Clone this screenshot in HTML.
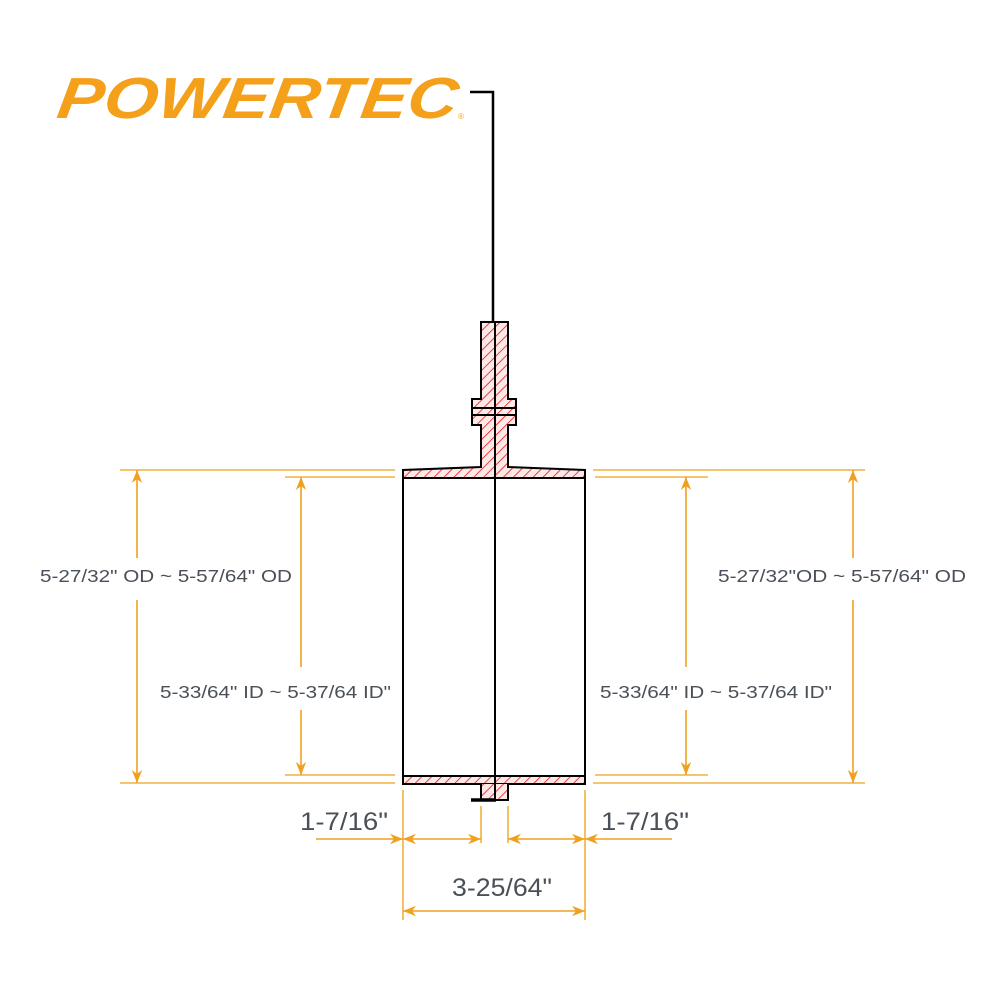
<!DOCTYPE html>
<html><head><meta charset="utf-8"><style>html,body{margin:0;padding:0;background:#fff}svg{display:block}</style></head>
<body>
<svg width="1000" height="1000" viewBox="0 0 1000 1000" xmlns="http://www.w3.org/2000/svg">
<defs>
<pattern id="h" patternUnits="userSpaceOnUse" width="7" height="7" patternTransform="rotate(45)">
<rect width="7" height="7" fill="#fde8e8"/><line x1="0" y1="0" x2="0" y2="7" stroke="#e01818" stroke-width="1.6"/>
</pattern>
<marker id="a" viewBox="0 0 10 10" refX="10" refY="5" markerWidth="13" markerHeight="13" orient="auto-start-reverse" markerUnits="userSpaceOnUse">
<path d="M0,1 L10,5 L0,9 L3,5 Z" fill="#f0a020"/></marker>
</defs>
<text x="58" y="118" font-family="Liberation Sans, sans-serif" font-weight="bold" font-style="italic" font-size="58" fill="#f5a01a" textLength="400" lengthAdjust="spacingAndGlyphs" transform="skewX(-8) translate(14,0)">POWERTEC</text>
<text x="458" y="119" font-family="Liberation Sans, sans-serif" font-size="8" fill="#f5a01a">®</text>
<polyline points="470,92 493,92 493,322" fill="none" stroke="#000" stroke-width="2.5"/>

<g stroke="#f0b040" stroke-width="1.6" fill="none">
<line x1="120" y1="470" x2="395" y2="470"/><line x1="120" y1="783" x2="395" y2="783"/>
<line x1="593" y1="470" x2="865" y2="470"/><line x1="593" y1="783" x2="865" y2="783"/>
<line x1="285" y1="477" x2="395" y2="477"/><line x1="285" y1="775" x2="395" y2="775"/>
<line x1="595" y1="477" x2="708" y2="477"/><line x1="595" y1="775" x2="708" y2="775"/>
<line x1="403" y1="790" x2="403" y2="920"/><line x1="585" y1="790" x2="585" y2="920"/>
<line x1="481" y1="806" x2="481" y2="843"/><line x1="508" y1="806" x2="508" y2="843"/>
</g>
<g stroke="#f0a020" stroke-width="1.6" fill="none">
<line x1="137" y1="470" x2="137" y2="558" marker-start="url(#a)"/><line x1="137" y1="600" x2="137" y2="783" marker-end="url(#a)"/>
<line x1="853" y1="470" x2="853" y2="558" marker-start="url(#a)"/><line x1="853" y1="600" x2="853" y2="783" marker-end="url(#a)"/>
<line x1="301" y1="477" x2="301" y2="667" marker-start="url(#a)"/><line x1="301" y1="710" x2="301" y2="775" marker-end="url(#a)"/>
<line x1="686" y1="477" x2="686" y2="667" marker-start="url(#a)"/><line x1="686" y1="710" x2="686" y2="775" marker-end="url(#a)"/>
<line x1="316" y1="839" x2="403" y2="839" marker-end="url(#a)"/>
<line x1="403" y1="839" x2="481" y2="839" marker-start="url(#a)" marker-end="url(#a)"/>
<line x1="508" y1="839" x2="585" y2="839" marker-start="url(#a)" marker-end="url(#a)"/>
<line x1="672" y1="839" x2="585" y2="839" marker-end="url(#a)"/>
<line x1="403" y1="911" x2="585" y2="911" marker-start="url(#a)" marker-end="url(#a)"/>
</g>

<g stroke="#000" stroke-width="2" fill="url(#h)">
<rect x="403" y="776" width="182" height="8"/>
<path d="M481,784 V800 H508 V784"/>
<path d="M403,478 V470 L481,467 V425 H472 V399 H481 V322 H508 V399 H516 V425 H508 V467 L585,470 V478 Z"/>
</g>
<g stroke="#000" stroke-width="2" fill="none">
<line x1="403" y1="478" x2="403" y2="776"/><line x1="585" y1="478" x2="585" y2="776"/>
<line x1="472" y1="408" x2="516" y2="408"/><line x1="472" y1="415" x2="516" y2="415"/>
<line x1="495" y1="322" x2="495" y2="800"/>
<line x1="471" y1="800" x2="496" y2="800" stroke-width="3.5"/>
</g>

<g font-family="Liberation Sans, sans-serif" fill="#4a5058">
<text x="40" y="582" font-size="17.5" textLength="252" lengthAdjust="spacingAndGlyphs">5-27/32" OD ~ 5-57/64" OD</text>
<text x="160" y="698" font-size="17.5" textLength="231" lengthAdjust="spacingAndGlyphs">5-33/64" ID ~ 5-37/64 ID"</text>
<text x="718" y="582" font-size="17.5" textLength="248" lengthAdjust="spacingAndGlyphs">5-27/32"OD ~ 5-57/64" OD</text>
<text x="600" y="698" font-size="17.5" textLength="232" lengthAdjust="spacingAndGlyphs">5-33/64" ID ~ 5-37/64 ID"</text>
<text x="300" y="830" font-size="25" textLength="88" lengthAdjust="spacingAndGlyphs">1-7/16"</text>
<text x="601" y="830" font-size="25" textLength="88" lengthAdjust="spacingAndGlyphs">1-7/16"</text>
<text x="452" y="896" font-size="25" textLength="100" lengthAdjust="spacingAndGlyphs">3-25/64"</text>
</g>
</svg>
</body></html>
